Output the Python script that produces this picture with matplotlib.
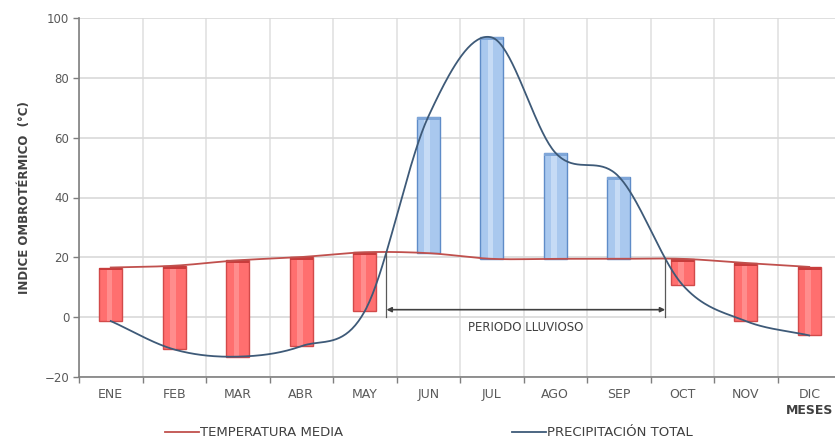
import numpy as np
import matplotlib
matplotlib.use("Agg")
import matplotlib.pyplot as plt

plt.rcParams['font.family'] = ['DejaVu Sans']

meses = ["ENE", "FEB", "MAR", "ABR", "MAY", "JUN", "JUL", "AGO", "SEP", "OCT", "NOV", "DIC"]
temperatura = [16.6, 17.2, 19.0, 20.1, 21.7, 21.4, 19.5, 19.5, 19.5, 19.5, 18.1, 16.8]
precipitacion = [-1.3, -10.8, -13.2, -9.7, 2.0, 67.0, 93.5, 55.0, 47.0, 10.9, -1.3, -6.1]
y_ticks = [-20, 0, 20, 40, 60, 80, 100]


def catmull_rom(xs, ys, n=40):
    """Smooth curve through the given points (uniform Catmull-Rom)."""
    xs = np.asarray(xs, float)
    ys = np.asarray(ys, float)
    px = np.concatenate([[2 * xs[0] - xs[1]], xs, [2 * xs[-1] - xs[-2]]])
    py = np.concatenate([[2 * ys[0] - ys[1]], ys, [2 * ys[-1] - ys[-2]]])
    out_x, out_y = [], []
    t = np.linspace(0, 1, n, endpoint=False)
    for i in range(1, len(px) - 2):
        for arr, out in ((px, out_x), (py, out_y)):
            p0, p1, p2, p3 = arr[i - 1], arr[i], arr[i + 1], arr[i + 2]
            out.extend(0.5 * ((2 * p1) + (-p0 + p2) * t
                              + (2 * p0 - 5 * p1 + 4 * p2 - p3) * t ** 2
                              + (-p0 + 3 * p1 - 3 * p2 + p3) * t ** 3))
    out_x.append(xs[-1])
    out_y.append(ys[-1])
    return np.array(out_x), np.array(out_y)


x = np.arange(len(meses))
fig = plt.figure(figsize=(8.35, 4.41), dpi=100)
ax = fig.add_axes([79 / 835, 64 / 441, 762 / 835, 359 / 441])

# grid
ax.set_ylim(-20, 100)
ax.set_xlim(-0.5, 11.5)
ax.set_yticks(y_ticks)
ax.set_xticks(x)
ax.set_xticklabels(meses)
ax.set_xticks(np.arange(-0.5, 12, 1), minor=True)
ax.grid(axis='y', color='#d9d9d9', lw=1.2, zorder=0)
ax.grid(axis='x', which='minor', color='#e2e2e2', lw=1.2, zorder=0)
ax.tick_params(axis='x', which='major', length=0, pad=8, labelsize=9, labelcolor='#595959')
ax.tick_params(axis='x', which='minor', length=4, color='#7f7f7f', width=1)
ax.tick_params(axis='y', length=4, color='#7f7f7f', width=1, labelsize=8.5,
               labelcolor='#595959', pad=3)
for s in ('top', 'right'):
    ax.spines[s].set_visible(False)
for s in ('left', 'bottom'):
    ax.spines[s].set_color('#7f7f7f')
    ax.spines[s].set_linewidth(1.2)

# floating bars between temperature and precipitation
temp = np.array(temperatura)
prec = np.array(precipitacion)
lo = np.minimum(temp, prec)
hi = np.maximum(temp, prec)
humedo = prec > temp
face = np.where(humedo, '#a9c8ee', '#ff6f6f')
edge = np.where(humedo, '#5f8cc8', '#d24a4a')
w = 0.36
ax.bar(x, hi - lo, bottom=lo, width=w, color=face, edgecolor=edge, linewidth=1.0, zorder=2)
hl = np.where(humedo, '#d3e4f8', '#ff9a9a')
ax.bar(x - 0.02, hi - lo, bottom=lo, width=0.08, color=hl, linewidth=0, alpha=0.7, zorder=2.5)
cap = np.where(humedo, '#7fa6d8', '#c83c3c')
ax.bar(x, 1.0, bottom=hi - 1.0, width=w, color=cap, linewidth=0, zorder=2.6)

# smoothed lines
tx, ty = catmull_rom(x, temp)
px_, py_ = catmull_rom(x, prec)
ax.plot(tx, ty, color='#c0504d', lw=1.3, zorder=3, label='TEMPERATURA MEDIA')
ax.plot(px_, py_, color='#3e5a78', lw=1.3, zorder=3, label='PRECIPITACIÓN TOTAL')

# rainy period: where the precipitation curve rises above temperature
diff = py_ - np.interp(px_, tx, ty)
idx = np.where(np.diff(np.sign(diff)) != 0)[0]
cross = [px_[i] - diff[i] * (px_[i + 1] - px_[i]) / (diff[i + 1] - diff[i]) for i in idx]
x0, x1 = cross[0], cross[-1]
for xc in (x0, x1):
    ax.plot([xc, xc], [0, np.interp(xc, tx, ty)], color='#595959', lw=0.9, zorder=3)
ax.annotate('', xy=(x0, 2.5), xytext=(x1, 2.5),
            arrowprops=dict(arrowstyle='<|-|>', color='#404040', lw=1.2,
                            mutation_scale=7, shrinkA=0, shrinkB=0), zorder=4)
ax.text((x0 + x1) / 2, -3.4, 'PERIODO LLUVIOSO', ha='center', va='center',
        fontsize=8.5, color='#404040')

ax.set_ylabel('INDICE OMBROTÉRMICO  (°C)', fontsize=8.5, fontweight='bold',
              color='#404040', labelpad=10)
fig.text(810 / 835, 1 - 410 / 441, 'MESES', ha='center', va='center',
         fontsize=9, fontweight='bold', color='#404040')

ax.legend(loc='center', bbox_to_anchor=(429 / 835, 1 - 433 / 441),
          bbox_transform=fig.transFigure, ncol=2, frameon=False,
          fontsize=9.5, handlelength=2.6, handletextpad=0.05, columnspacing=12.8,
          labelcolor='#404040')

fig.savefig('out.png', dpi=100)
